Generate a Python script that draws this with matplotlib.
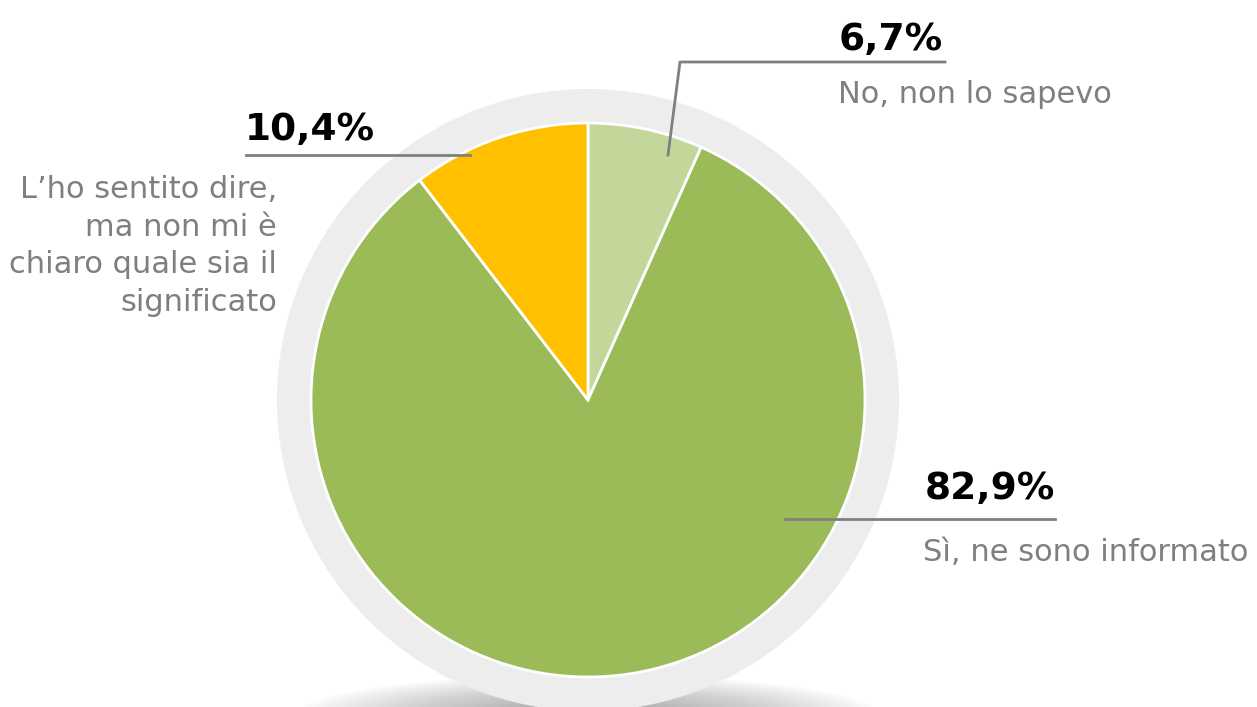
import matplotlib
matplotlib.use("Agg")
import matplotlib.pyplot as plt
from matplotlib.patches import Circle, Ellipse

labels = ["No, non lo sapevo", "Sì, ne sono informato",
          "L’ho sentito dire,\nma non mi è\nchiaro quale sia il\nsignificato"]
values = [6.7, 82.9, 10.4]
pct_text = ["6,7%", "82,9%", "10,4%"]
colors = ["#C4D79B", "#9BBB59", "#FFC000"]

W, H = 1257, 707
fig = plt.figure(figsize=(W / 100, H / 100), dpi=100)
ax = fig.add_axes([0, 0, 1, 1])
ax.set_xlim(0, W)
ax.set_ylim(0, H)
ax.set_aspect("equal")
ax.axis("off")

cx, cy = 588, H - 400
R = 277

# soft shadow under the ring
n = 20
for i in range(n):
    w = 580 - i * 20
    h = 80 - i * 2.8
    ax.add_patch(Ellipse((cx, -8), w, h, color="#777777", alpha=0.03, lw=0, zorder=0))

# ring
ax.add_patch(Circle((cx, cy), 311, color="#EDEDED", lw=0, zorder=1))

wedges, _ = ax.pie(values, colors=colors, startangle=90, counterclock=False,
                   center=(cx, cy), radius=R,
                   wedgeprops=dict(edgecolor="white", linewidth=2))
for w_ in wedges:
    w_.set_zorder(2)
ax.set_xlim(0, W)
ax.set_ylim(0, H)
ax.set_aspect("equal")

lc = "#808080"
# leader lines
ax.plot([668, 680, 945], [H - 155, H - 62, H - 62], color=lc, lw=2, zorder=3)
ax.plot([470, 246], [H - 155, H - 155], color=lc, lw=2, zorder=3)
ax.plot([785, 1055], [H - 519, H - 519], color=lc, lw=2, zorder=3)

pf = dict(fontsize=27, fontweight="bold", color="black", family="DejaVu Sans", zorder=4)
lf = dict(fontsize=22, color="#7F7F7F", family="DejaVu Sans", zorder=4)

ax.text(839, H - 50, pct_text[0], ha="left", va="baseline", **pf)
ax.text(838, H - 103, labels[0], ha="left", va="baseline", **lf)

ax.text(925, H - 499, pct_text[1], ha="left", va="baseline", **pf)
ax.text(923, H - 561, labels[1], ha="left", va="baseline", **lf)

ax.text(245, H - 140, pct_text[2], ha="left", va="baseline", **pf)
ax.text(277, H - 175, labels[2], ha="right", va="top", linespacing=1.37, **lf)

fig.savefig("out.png", dpi=100)
